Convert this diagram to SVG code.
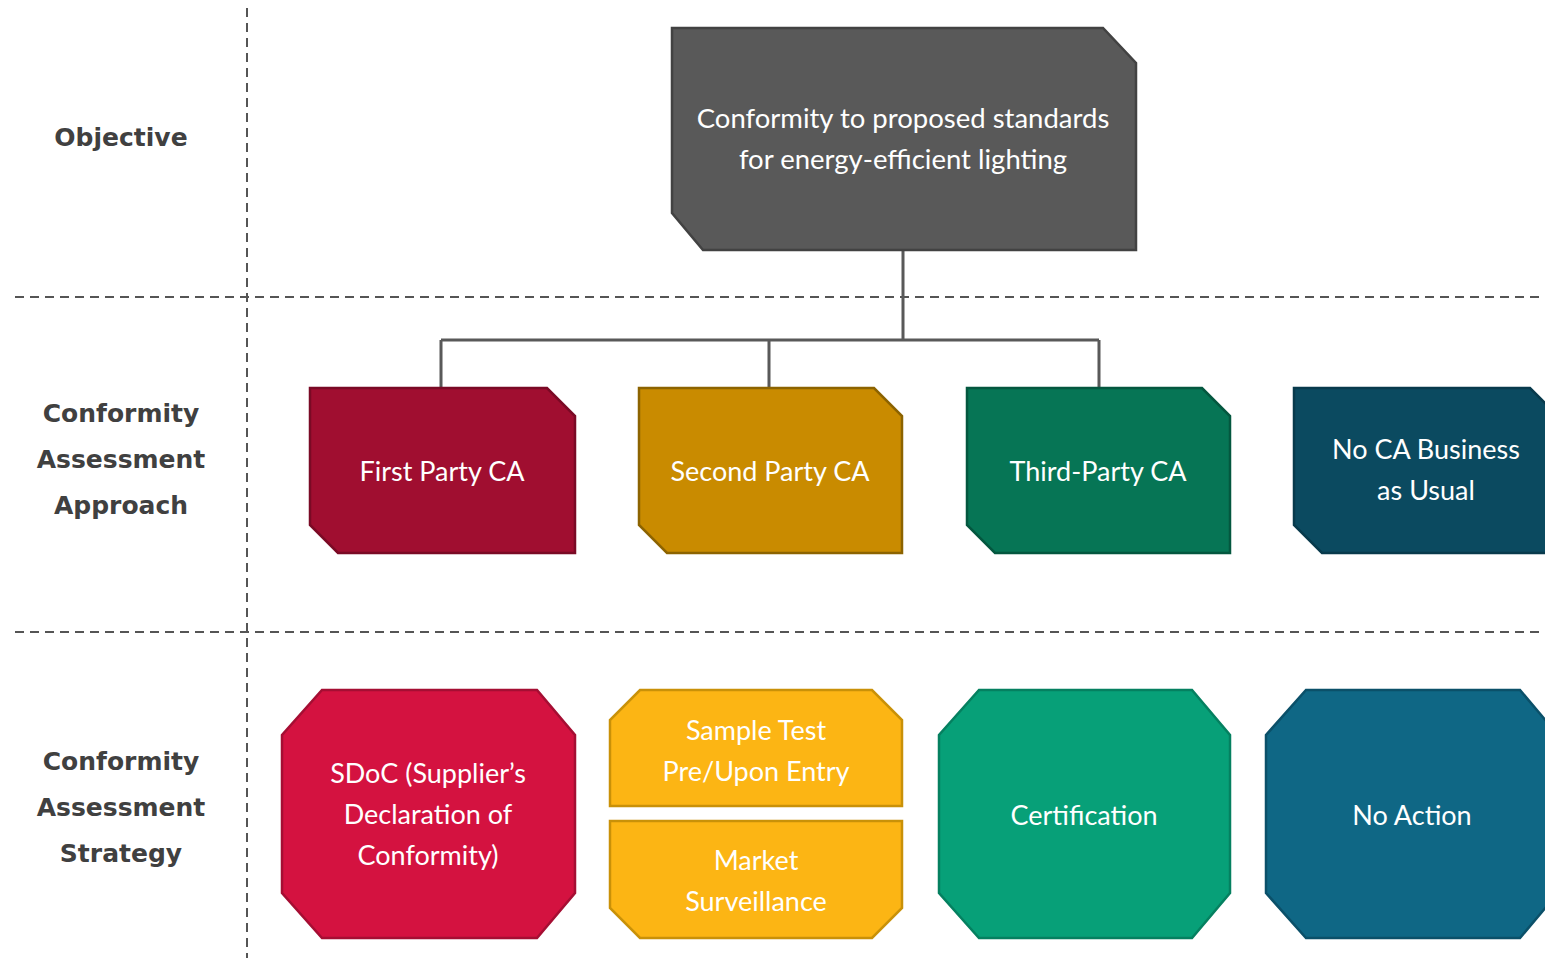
<svg xmlns="http://www.w3.org/2000/svg" width="1545" height="958" viewBox="0 0 1545 958">
<style>
.grid{stroke:#555;stroke-width:2;stroke-dasharray:9,6;fill:none}
.lbl{font-family:"DejaVu Sans",sans-serif;font-weight:bold;font-size:25px;fill:#404040;text-anchor:middle}
.t{font-family:Lato,"Liberation Sans",sans-serif;font-size:27px;fill:#fff;text-anchor:middle}
.top{font-size:27.5px}
.con{stroke:#595959;stroke-width:3;fill:none}
.n{stroke-width:2.5}
</style>
<rect width="1545" height="958" fill="#fff"/>
<g id="grid">
<line class="grid" x1="247" y1="8" x2="247" y2="958"/>
<line class="grid" x1="15" y1="297" x2="1545" y2="297"/>
<line class="grid" x1="15" y1="632" x2="1545" y2="632"/>
</g>
<g id="labels">
<text class="lbl" x="121" y="146">Objective</text>
<text class="lbl" x="121" y="422">Conformity</text>
<text class="lbl" x="121" y="468">Assessment</text>
<text class="lbl" x="121" y="514">Approach</text>
<text class="lbl" x="121" y="770">Conformity</text>
<text class="lbl" x="121" y="816">Assessment</text>
<text class="lbl" x="121" y="862">Strategy</text>
</g>
<g id="connectors">
<path class="con" d="M903,250 V340 M441,340 H1099 M441,340 V388 M769,340 V388 M1099,340 V388"/>
</g>
<g id="objective">
<path class="n" d="M672,28 H1103 L1136,63 V250 H703 L672,213 Z" fill="#595959" stroke="#424242"/>
<text class="t top" x="903" y="128">Conformity to proposed standards</text>
<text class="t top" x="903" y="169">for energy-efficient lighting</text>
</g>
<g id="first-party">
<path class="n" d="M310,388 H547 L575,416 V553 H338 L310,525 Z" fill="#A00E30" stroke="#7A0A25"/>
<text class="t" x="442" y="481">First Party CA</text>
</g>
<g id="second-party">
<path class="n" d="M639,388 H874 L902,416 V553 H667 L639,525 Z" fill="#C98B00" stroke="#8C6300"/>
<text class="t" x="770" y="481">Second Party CA</text>
</g>
<g id="third-party">
<path class="n" d="M967,388 H1202 L1230,416 V553 H995 L967,525 Z" fill="#067555" stroke="#04573F"/>
<text class="t" x="1098" y="481">Third-Party CA</text>
</g>
<g id="no-ca">
<path class="n" d="M1294,388 H1530 L1558,416 V553 H1322 L1294,525 Z" fill="#0B4A60" stroke="#083A4C"/>
<text class="t" x="1426" y="459">No CA Business</text>
<text class="t" x="1426" y="500">as Usual</text>
</g>
<g id="sdoc">
<path class="n" d="M322,690 H537 L575,735 V893 L537,938 H322 L282,893 V735 Z" fill="#D41240" stroke="#A50E33"/>
<text class="t" x="428" y="783">SDoC (Supplier’s</text>
<text class="t" x="428" y="824">Declaration of</text>
<text class="t" x="428" y="865">Conformity)</text>
</g>
<g id="sample-test">
<path class="n" d="M640,690 H872 L902,720 V806 H610 V720 Z" fill="#FCB514" stroke="#C99108"/>
<text class="t" x="756" y="740">Sample Test</text>
<text class="t" x="756" y="781">Pre/Upon Entry</text>
</g>
<g id="market-surveillance">
<path class="n" d="M610,821 H902 V908 L872,938 H640 L610,908 Z" fill="#FCB514" stroke="#C99108"/>
<text class="t" x="756" y="870">Market</text>
<text class="t" x="756" y="911">Surveillance</text>
</g>
<g id="certification">
<path class="n" d="M979,690 H1192 L1230,735 V893 L1192,938 H979 L939,893 V735 Z" fill="#07A078" stroke="#058060"/>
<text class="t" x="1084" y="825">Certification</text>
</g>
<g id="no-action">
<path class="n" d="M1306,690 H1520 L1558,735 V893 L1520,938 H1306 L1266,893 V735 Z" fill="#0F6785" stroke="#0B5069"/>
<text class="t" x="1412" y="825">No Action</text>
</g>
</svg>
